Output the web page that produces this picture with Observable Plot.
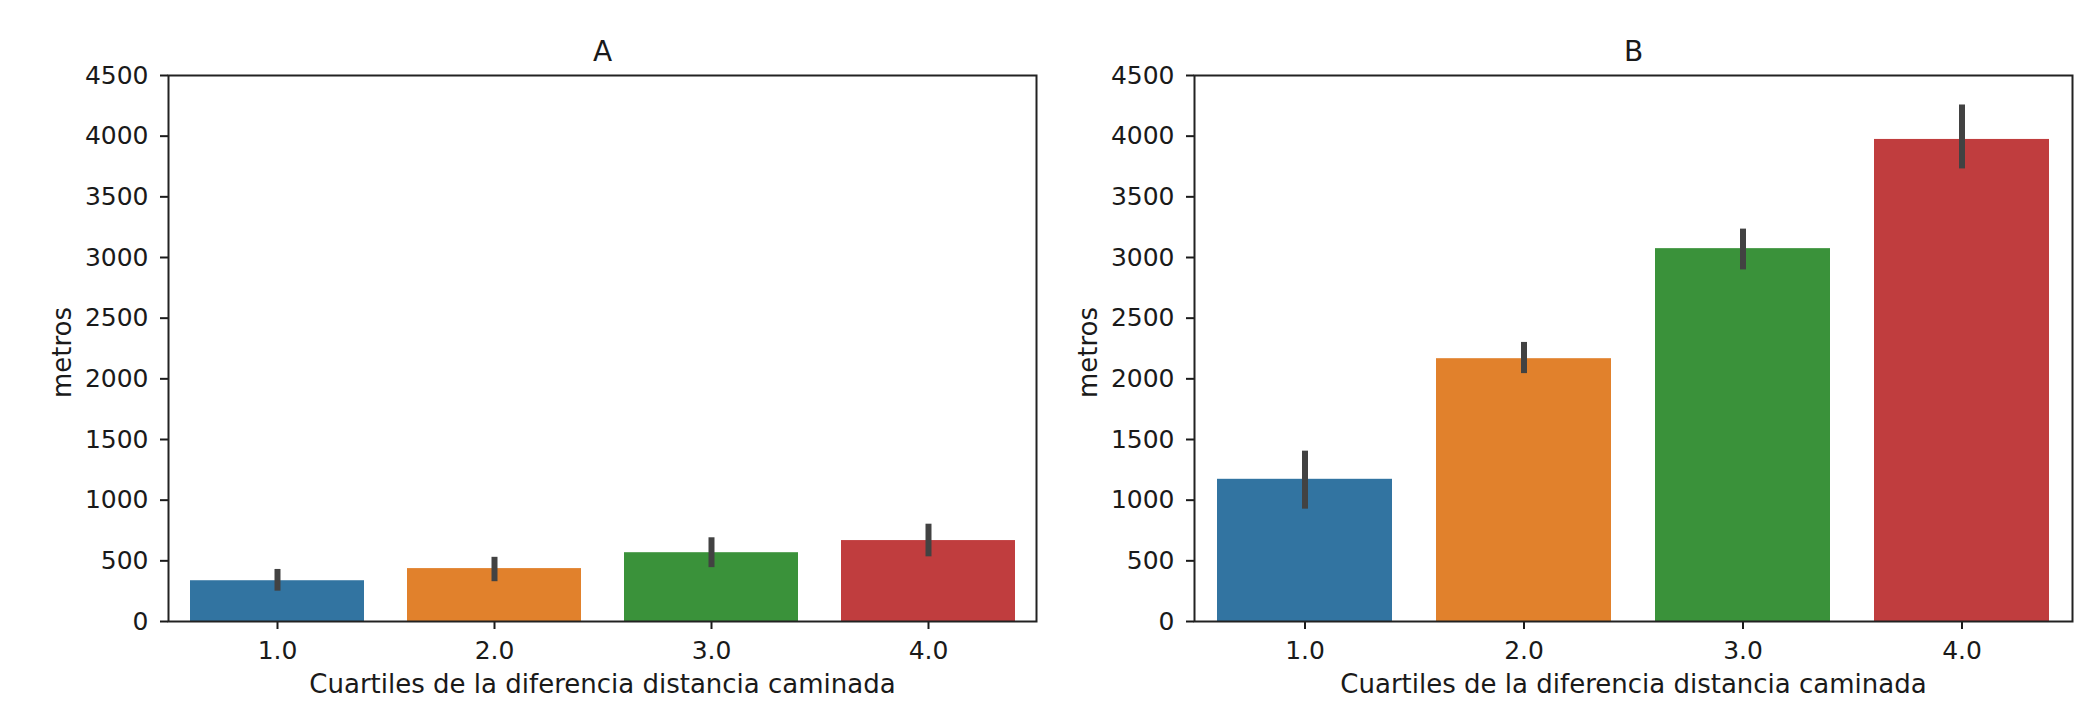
<!DOCTYPE html>
<html>
<head>
<meta charset="utf-8">
<script src="https://cdn.jsdelivr.net/npm/d3@7"></script>
<script src="https://cdn.jsdelivr.net/npm/@observablehq/plot@0.6"></script>
<style>
  html, body { margin: 0; padding: 0; background: white; }
  #wrap { position: relative; width: 2078px; height: 709px; }
  #panelA { position: absolute; left: 0; top: 0; }
  #panelB { position: absolute; left: 1040px; top: 0; }
  svg [aria-label^="y-axis"] line, svg [aria-label^="y-axis"] path,
  svg [aria-label^="x-axis"] line, svg [aria-label^="x-axis"] path { stroke-width: 2px; }
</style>
</head>
<body>
<div id="wrap"><div id="panelA"></div><div id="panelB"></div></div>
<script>
const quartiles = ["1.0", "2.0", "3.0", "4.0"];
const colors = ["#3274a1", "#e1812c", "#3a923a", "#c03d3e"];
const yTicks = [0, 500, 1000, 1500, 2000, 2500, 3000, 3500, 4000, 4500];
const xLabel = "Cuartiles de la diferencia distancia caminada";
const yLabel = "metros";

const meanA = [336, 436, 567, 667];
const loA   = [250, 328, 444, 533];
const hiA   = [429, 529, 690, 802];

const meanB = [1172, 2166, 3073, 3973];
const loB   = [926, 2043, 2898, 3730];
const hiB   = [1404, 2300, 3234, 4257];

function rows(mean, lo, hi) {
  return quartiles.map((q, i) => ({q, v: mean[i], lo: lo[i], hi: hi[i]}));
}

function panel(title, data, width, marginLeft, marginRight) {
  return Plot.plot({
    width, height: 709,
    marginLeft, marginRight, marginTop: 75, marginBottom: 88,
    style: {fontSize: "25px", fontFamily: "DejaVu Sans", color: "#1a1a1a", background: "white", overflow: "visible"},
    x: {domain: quartiles, paddingInner: 0.2, paddingOuter: 0.1, tickSize: 8, tickPadding: 12, label: null},
    y: {domain: [0, 4500], ticks: yTicks, tickFormat: d => String(d), tickSize: 8, tickPadding: 12, label: null},
    color: {domain: quartiles, range: colors},
    marks: [
      Plot.barY(data, {x: "q", y: "v", fill: "q"}),
      Plot.ruleX(data, {x: "q", y1: "lo", y2: "hi", stroke: "#424242", strokeWidth: 6}),
      Plot.frame({stroke: "#222", strokeWidth: 2}),
      Plot.text([title], {frameAnchor: "top", lineAnchor: "middle", textAnchor: "middle", dy: -23, fontSize: 28, text: d => d}),
      Plot.text([xLabel], {frameAnchor: "bottom", lineAnchor: "middle", textAnchor: "middle", dy: 63, fontSize: 26, text: d => d}),
      Plot.text([yLabel], {frameAnchor: "left", lineAnchor: "middle", textAnchor: "middle", dx: -106, dy: 4, rotate: -90, fontSize: 26, text: d => d})
    ]
  });
}

document.getElementById("panelA").append(panel("A", rows(meanA, loA, hiA), 1040, 168, 4));
document.getElementById("panelB").append(panel("B", rows(meanB, loB, hiB), 1038, 154, 6));
</script>
</body>
</html>
